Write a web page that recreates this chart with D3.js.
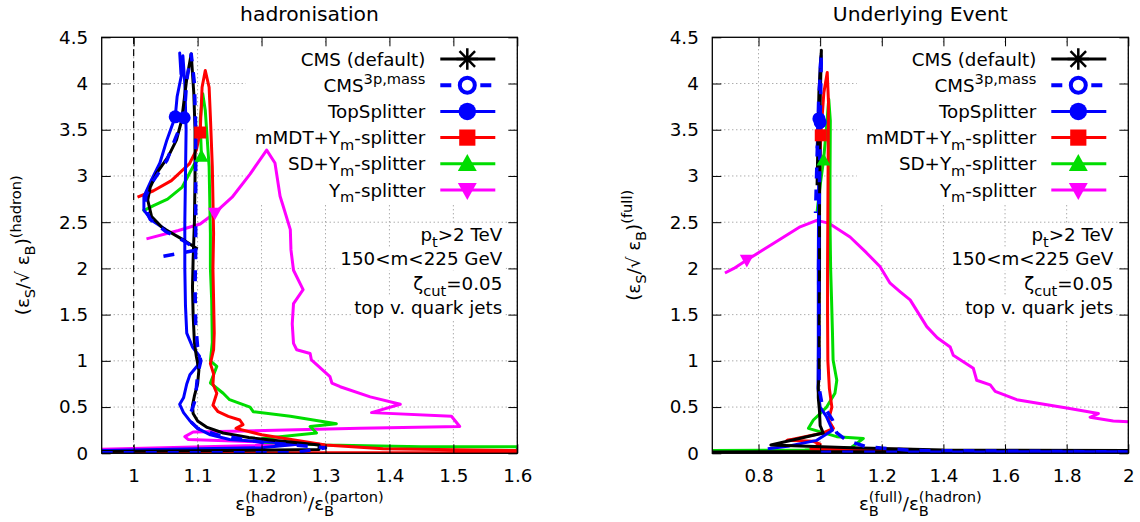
<!DOCTYPE html>
<html><head><meta charset="utf-8">
<script src="https://cdn.jsdelivr.net/npm/d3@7"></script>
<style>body{margin:0;background:#fff} text{font-family:"DejaVu Sans",sans-serif;fill:#000}</style>
</head><body><svg id="c" width="1140" height="522"></svg>
<script>
// ---------- data ----------
const yTicks = [0, 0.5, 1, 1.5, 2, 2.5, 3, 3.5, 4, 4.5];
const xTicksHad = [1, 1.1, 1.2, 1.3, 1.4, 1.5, 1.6];
const xTicksUE = [0.8, 1, 1.2, 1.4, 1.6, 1.8, 2];
const panelTitles = ["hadronisation", "Underlying Event"];

// hadronisation panel: [eps_B(hadron)/eps_B(parton), eps_S/sqrt(eps_B)]
const hadCMS = [[0.95,0.02],[1.29,0.04],[1.29,0.09],[1.18,0.17],[1.14,0.22],[1.115,0.28],[1.1,0.35],[1.093,0.43],[1.092,0.52],[1.095,0.62],[1.1,0.75],[1.102,0.9],[1.098,1.05],[1.095,1.2],[1.093,1.5],[1.092,1.8],[1.093,2.1],[1.095,2.5],[1.096,3.0],[1.096,3.5],[1.094,3.9],[1.09,4.32],[1.083,4.05],[1.075,3.6],[1.067,3.39],[1.054,3.21],[1.036,3.03],[1.026,2.88],[1.022,2.74],[1.028,2.56],[1.045,2.44],[1.075,2.32],[1.1,2.21]];
const hadCMS3p = [[0.95,0.005],[1.25,0.005],[1.3,0.06],[1.2,0.12],[1.13,0.2],[1.1,0.27],[1.088,0.35],[1.09,0.45],[1.095,0.55],[1.098,0.7],[1.1,0.85],[1.105,1.0],[1.1,1.15],[1.097,1.4],[1.096,1.8],[1.097,2.2],[1.097,2.6],[1.097,3.0],[1.097,3.5],[1.095,4.0],[1.09,4.32],[1.083,4.04],[1.079,3.63],[1.066,3.42],[1.052,3.17],[1.028,2.92],[1.019,2.78],[1.018,2.65],[1.026,2.53],[1.05,2.4],[1.078,2.3],[1.1,2.2],[1.038,2.12]];
const hadTop = [[0.95,0.03],[1.2,0.06],[1.26,0.1],[1.15,0.15],[1.12,0.2],[1.1,0.27],[1.088,0.35],[1.078,0.44],[1.072,0.53],[1.078,0.6],[1.083,0.75],[1.088,0.85],[1.1,0.95],[1.103,1.05],[1.092,1.15],[1.083,1.3],[1.081,1.6],[1.08,2.0],[1.08,2.5],[1.081,3.0],[1.082,3.5],[1.08,4.0],[1.077,4.3],[1.074,4.1],[1.072,4.33],[1.075,4.1],[1.068,3.86],[1.065,3.64],[1.052,3.39],[1.041,3.14],[1.028,2.96],[1.016,2.78],[1.016,2.63],[1.028,2.52],[1.05,2.42]];
const hadMMDT = [[0.95,0.005],[1.6,0.005],[1.6,0.03],[1.39,0.05],[1.3,0.09],[1.2,0.2],[1.16,0.27],[1.171,0.31],[1.166,0.36],[1.148,0.4],[1.132,0.45],[1.124,0.52],[1.13,0.65],[1.124,0.75],[1.125,0.86],[1.12,0.97],[1.125,1.12],[1.126,1.3],[1.125,1.66],[1.124,2.0],[1.125,2.38],[1.123,3.1],[1.12,3.64],[1.118,3.96],[1.112,4.14],[1.107,3.96],[1.104,3.47],[1.098,3.28],[1.087,3.13],[1.059,2.95],[1.031,2.84],[1.006,2.77]];
const hadSD = [[1.6,0.03],[1.6,0.07],[1.45,0.07],[1.3,0.09],[1.2,0.12],[1.202,0.16],[1.286,0.22],[1.276,0.29],[1.317,0.32],[1.245,0.4],[1.187,0.45],[1.182,0.5],[1.15,0.58],[1.14,0.65],[1.12,0.76],[1.13,0.94],[1.12,1.0],[1.123,1.2],[1.122,1.66],[1.12,2.0],[1.12,2.38],[1.118,3.1],[1.112,3.71],[1.108,3.89],[1.104,3.6],[1.106,3.21],[1.095,3.13],[1.076,2.88],[1.053,2.75],[1.031,2.68],[1.014,2.62]];
const hadYm = [[0.95,0.045],[1.29,0.1],[1.085,0.15],[1.08,0.18],[1.093,0.23],[1.354,0.27],[1.51,0.29],[1.497,0.40],[1.372,0.44],[1.417,0.53],[1.37,0.61],[1.323,0.72],[1.31,0.76],[1.307,0.83],[1.278,1.01],[1.276,1.08],[1.255,1.12],[1.25,1.19],[1.248,1.4],[1.25,1.62],[1.265,1.77],[1.25,1.98],[1.246,2.2],[1.245,2.42],[1.234,2.67],[1.229,2.78],[1.221,3.14],[1.208,3.28],[1.182,3.02],[1.154,2.77],[1.127,2.6],[1.104,2.48],[1.07,2.41],[1.02,2.32]];
const hadMarkers = [[1.065,3.64],[1.079,3.63],[1.104,3.47],[1.106,3.21],[1.127,2.6]];
const hadMarkerSeries = ["top","cms3p","mmdt","sd","ym"];

// underlying-event panel: [eps_B(full)/eps_B(hadron), eps_S/sqrt(eps_B)]
const ueCMS = [[0.65,0.015],[2.0,0.02],[2.0,0.03],[1.4,0.035],[1.1,0.06],[0.84,0.09],[1.01,0.22],[1.0,0.3],[0.998,0.45],[0.994,0.6],[0.994,0.72],[0.997,0.9],[0.997,1.5],[0.998,2.0],[0.998,2.6],[0.999,3.2],[1.0,3.8],[1.004,4.36],[0.996,3.9],[0.993,3.4],[0.99,2.9]];
const ueCMS3p = [[1.0,0.01],[2.0,0.015],[1.3,0.03],[1.15,0.07],[1.086,0.14],[1.054,0.22],[1.04,0.36],[1.027,0.43],[1.005,0.55],[0.997,0.7],[0.996,1.0],[0.996,1.5],[0.995,2.0],[0.996,2.5],[0.998,3.0],[1.0,3.6],[1.004,4.32],[0.995,3.8],[0.99,3.2],[0.985,2.6]];
const ueTop = [[0.83,0.05],[0.9,0.08],[0.989,0.14],[1.04,0.25],[1.02,0.4],[1.0,0.5],[0.993,0.7],[0.994,1.2],[0.994,2.0],[0.995,2.8],[0.996,3.62],[1.0,4.2],[1.003,4.3],[0.998,3.8],[0.99,3.3]];
const ueMMDT = [[0.65,0.005],[1.31,0.02],[1.31,0.04],[0.97,0.05],[1.0,0.1],[0.978,0.13],[0.892,0.14],[1.01,0.22],[1.043,0.27],[1.027,0.36],[1.038,0.5],[1.03,0.7],[1.025,1.0],[1.024,1.5],[1.024,2.0],[1.025,2.6],[1.026,3.2],[1.027,3.8],[1.023,4.12],[1.012,3.9],[1.002,3.44],[0.998,3.0]];
const ueSD = [[0.65,0.03],[0.95,0.035],[1.1,0.06],[1.14,0.16],[1.054,0.18],[0.962,0.27],[0.978,0.36],[1.0,0.43],[1.021,0.5],[1.048,0.65],[1.054,0.79],[1.042,1.01],[1.04,1.3],[1.037,1.66],[1.034,2.0],[1.032,2.5],[1.032,3.0],[1.033,3.6],[1.028,3.83],[1.02,3.5],[1.011,3.17],[1.0,2.9],[0.99,2.61]];
const ueYm = [[0.691,1.95],[0.72,2.0],[0.762,2.09],[0.848,2.27],[0.935,2.45],[0.989,2.52],[1.027,2.49],[1.097,2.34],[1.15,2.17],[1.194,2.02],[1.227,1.84],[1.259,1.75],[1.292,1.66],[1.346,1.37],[1.38,1.25],[1.422,1.15],[1.432,1.06],[1.497,0.92],[1.508,0.79],[1.552,0.74],[1.568,0.67],[1.638,0.58],[1.8,0.49],[1.903,0.43],[1.876,0.39],[1.951,0.35],[2.0,0.34]];
const ueMarkers = [[0.996,3.62],[1.0,3.58],[1.002,3.44],[1.011,3.17],[0.762,2.09]];
const ueMarkerSeries = ["top","cms3p","mmdt","sd","ym"];

const seriesKeys = ["cms","cms3p","top","mmdt","sd","ym"];
const seriesColors = {cms:"#000000",cms3p:"#0000ff",top:"#0000ff",mmdt:"#ff0000",sd:"#00dd00",ym:"#ff00ff"};
const legendLabels = [["CMS (default)"],["CMS",{sup:"3p,mass"}],["TopSplitter"],["mMDT+Y",{sub:"m"},"-splitter"],["SD+Y",{sub:"m"},"-splitter"],["Y",{sub:"m"},"-splitter"]];
const annotations = [["p",{sub:"t"},">2 TeV"],["150<m<225 GeV"],["ζ",{sub:"cut"},"=0.05"],["top v. quark jets"]];

// ---------- drawing ----------
const svg = d3.select("#c");
const FS = 18.3;
const Y0 = 37.3, Y1 = 453.3;
const y = d3.scaleLinear([0, 4.5], [Y1, Y0]);

function rich(parent, parts, fs, anchor, x, yy, rot) {
  const g = parent.append("g").attr("transform", `translate(${x},${yy})` + (rot ? " rotate(-90)" : ""));
  const inner = g.append("g");
  let cx = 0;
  parts.forEach(p => {
    if (typeof p === "string") {
      const t = inner.append("text").attr("x", cx).attr("y", 0).attr("font-size", fs).style("white-space","pre").text(p);
      cx += t.node().getComputedTextLength();
    } else {
      let w = 0;
      if (p.sub) { const t = inner.append("text").attr("x", cx).attr("y", fs*0.32).attr("font-size", fs*0.8).text(p.sub); w = Math.max(w, t.node().getComputedTextLength()); }
      if (p.sup) { const t = inner.append("text").attr("x", cx).attr("y", -fs*0.42).attr("font-size", fs*0.8).text(p.sup); w = Math.max(w, t.node().getComputedTextLength()); }
      cx += w;
    }
  });
  const off = anchor === "end" ? -cx : anchor === "middle" ? -cx/2 : 0;
  inner.attr("transform", `translate(${off},0)`);
  return g;
}

function marker(g, kind, cx, cy, big) {
  const col = seriesColors[kind];
  const s = big ? 1.35 : 1;
  if (kind === "cms") {
    const r = 8*s;
    g.append("path").attr("d", `M${cx-r},${cy}H${cx+r}M${cx},${cy-r}V${cy+r}M${cx-r*0.72},${cy-r*0.72}L${cx+r*0.72},${cy+r*0.72}M${cx-r*0.72},${cy+r*0.72}L${cx+r*0.72},${cy-r*0.72}`)
      .attr("stroke", col).attr("stroke-width", 2.5);
  } else if (kind === "cms3p") {
    g.append("circle").attr("cx", cx).attr("cy", cy).attr("r", big ? 7.5 : 5).attr("fill", big ? "#fff" : col).attr("stroke", col).attr("stroke-width", big ? 4 : 3);
  } else if (kind === "top") {
    g.append("circle").attr("cx", cx).attr("cy", cy).attr("r", 6.5*s).attr("fill", col);
  } else if (kind === "mmdt") {
    const h = 6*s;
    g.append("rect").attr("x", cx-h).attr("y", cy-h).attr("width", 2*h).attr("height", 2*h).attr("fill", col);
  } else if (kind === "sd") {
    const h = 7*s;
    g.append("path").attr("d", `M${cx},${cy-h*1.05}L${cx+h},${cy+h*0.75}L${cx-h},${cy+h*0.75}Z`).attr("fill", col);
  } else if (kind === "ym") {
    const h = 7*s;
    g.append("path").attr("d", `M${cx},${cy+h*1.05}L${cx+h},${cy-h*0.75}L${cx-h},${cy-h*0.75}Z`).attr("fill", col);
  }
}

function panel(id, xDomain, xRange, xTicks, data, markers, markerSeries, title, xLabel, yLabel, yLabX, showUnity, yTickFmt) {
  const x = d3.scaleLinear(xDomain, xRange);
  const X0 = xRange[0], X1 = xRange[1];
  const root = svg.append("g");
  const gridL = root.append("g"), boxL = root.append("g"), dataL = root.append("g"), textL = root.append("g"), frameL = root.append("g");

  svg.append("clipPath").attr("id", "clip"+id).append("rect").attr("x", X0).attr("y", Y0).attr("width", X1-X0).attr("height", Y1-Y0);

  // grid
  gridL.selectAll(".gx").data(xTicks).join("line").attr("x1", d => x(d)).attr("x2", d => x(d)).attr("y1", Y0).attr("y2", Y1)
    .attr("stroke", "#888").attr("stroke-width", 1).attr("stroke-dasharray", "1,3");
  gridL.selectAll(".gy").data(yTicks.filter(v => v > 0 && v < 4.5)).join("line").attr("x1", X0).attr("x2", X1).attr("y1", d => y(d)).attr("y2", d => y(d))
    .attr("stroke", "#888").attr("stroke-width", 1).attr("stroke-dasharray", "1,3");
  if (showUnity) {
    gridL.append("line").attr("x1", x(1)).attr("x2", x(1)).attr("y1", Y0).attr("y2", Y1).attr("stroke", "#000").attr("stroke-width", 1.2).attr("stroke-dasharray", "7,5");
  }

  // data lines
  const line = d3.line().x(d => x(d[0])).y(d => y(d[1]));
  const dg = dataL.append("g").attr("clip-path", `url(#clip${id})`);
  const order = ["ym","sd","mmdt","top","cms","cms3p"];
  order.forEach(k => {
    dg.append("path").datum(data[k]).attr("d", line).attr("fill", "none").attr("stroke", seriesColors[k])
      .attr("stroke-width", k === "cms3p" ? 3.5 : 3).attr("stroke-linejoin", "round").attr("stroke-linecap", "butt")
      .attr("stroke-dasharray", k === "cms3p" ? "11,11" : null);
  });
  markers.forEach((m, i) => marker(dg, markerSeries[i], x(m[0]), y(m[1]), false));

  // legend
  const legRight = X1 - 92;
  let minX = Infinity;
  legendLabels.forEach((parts, i) => {
    const cy = 59 + i*26.2;
    const t = rich(textL, parts, FS, "end", legRight, cy + 6.5, false);
    const bb = t.node().getBBox();
    minX = Math.min(minX, legRight + bb.x);
    const k = seriesKeys[i];
    textL.append("line").attr("x1", X1-77).attr("x2", X1-22).attr("y1", cy).attr("y2", cy).attr("stroke", seriesColors[k])
      .attr("stroke-width", k === "cms3p" ? 4 : 3).attr("stroke-dasharray", k === "cms3p" ? "11,9" : null);
    marker(textL, k, X1-50, cy, true);
  });
  boxL.append("rect").attr("x", minX - 9).attr("y", 45).attr("width", X1 - 7 - (minX - 9)).attr("height", 158).attr("fill", "#fff");

  // annotations
  annotations.forEach((parts, i) => {
    const cy = [235, 259.3, 284.3, 308.3][i];
    const t = rich(textL, parts, FS, "end", X1 - 15, cy + 6, false);
    const bb = t.node().getBBox();
    boxL.append("rect").attr("x", X1 - 15 + bb.x - 3).attr("y", cy + 6 + bb.y - 1).attr("width", bb.width + 6).attr("height", bb.height + 2).attr("fill", "#fff");
  });

  // frame + axes
  const tl = 9;
  const ax = frameL.append("g").attr("transform", `translate(0,${Y1})`).call(d3.axisBottom(x).tickValues(xTicks).tickSize(-tl).tickPadding(16).tickFormat(d3.format("")));
  const ay = frameL.append("g").attr("transform", `translate(${X0},0)`).call(d3.axisLeft(y).tickValues(yTicks).tickSize(-tl).tickPadding(13.5).tickFormat(yTickFmt));
  const at = frameL.append("g").attr("transform", `translate(0,${Y0})`).call(d3.axisTop(x).tickValues(xTicks).tickSize(-tl).tickFormat(""));
  const ar = frameL.append("g").attr("transform", `translate(${X1},0)`).call(d3.axisRight(y).tickValues(yTicks).tickSize(-tl).tickFormat(""));
  [ax, ay, at, ar].forEach(a => {
    a.select(".domain").remove();
    a.selectAll("line").attr("stroke", "#000").attr("stroke-width", 1);
    a.selectAll("text").attr("font-size", FS).attr("font-family", '"DejaVu Sans",sans-serif').attr("fill", "#000");
  });
  frameL.append("rect").attr("x", X0).attr("y", Y0).attr("width", X1-X0).attr("height", Y1-Y0).attr("fill", "none").attr("stroke", "#000").attr("stroke-width", 1.3);

  // titles & axis labels
  const cxMid = (X0 + X1) / 2;
  svg.append("text").attr("x", cxMid).attr("y", 20.5).attr("text-anchor", "middle").attr("font-size", 20.3).text(title);
  rich(svg, xLabel, FS, "middle", cxMid, 510, false);
  rich(svg, yLabel, FS, "middle", yLabX, (Y0 + Y1) / 2, true);
}

const yFmt = d => String(+d.toFixed(1));
panel("h", [0.95, 1.6], [101.7, 517.3], xTicksHad,
  {cms: hadCMS, cms3p: hadCMS3p, top: hadTop, mmdt: hadMMDT, sd: hadSD, ym: hadYm},
  hadMarkers, hadMarkerSeries, panelTitles[0],
  ["ε", {sub:"B", sup:"(hadron)"}, "/ε", {sub:"B", sup:"(parton)"}],
  ["(ε", {sub:"S"}, "/√ ε", {sub:"B"}, ")", {sup:"(hadron)"}], 29, true, yFmt);
panel("u", [0.65, 2], [712.3, 1128.3], xTicksUE,
  {cms: ueCMS, cms3p: ueCMS3p, top: ueTop, mmdt: ueMMDT, sd: ueSD, ym: ueYm},
  ueMarkers, ueMarkerSeries, panelTitles[1],
  ["ε", {sub:"B", sup:"(full)"}, "/ε", {sub:"B", sup:"(hadron)"}],
  ["(ε", {sub:"S"}, "/√ ε", {sub:"B"}, ")", {sup:"(full)"}], 640, false, yFmt);
</script></body></html>
